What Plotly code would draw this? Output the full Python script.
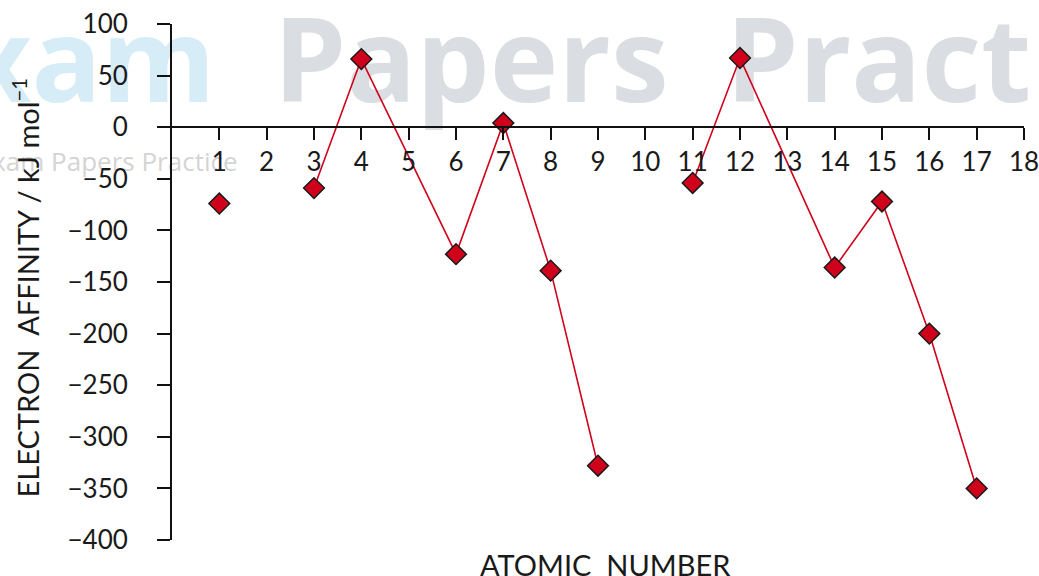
import plotly.graph_objects as go

# First electron affinities of elements 1-17 (noble gases and Be/Mg-type gaps omitted)
atomic_number = [1, 3, 4, 6, 7, 8, 9, 11, 12, 14, 15, 16, 17]
electron_affinity = [-74, -59, 66, -123, 4, -139, -328, -54, 67, -136, -72, -200, -350]
period = [1, 2, 2, 2, 2, 2, 2, 3, 3, 3, 3, 3, 3]

x_ticks = list(range(1, 19))
y_ticks = [100, 50, 0, -50, -100, -150, -200, -250, -300, -350, -400]

FONT = "Lato, 'Open Sans', sans-serif"
RED = "#d0021b"

fig = go.Figure()

for p in sorted(set(period)):
    xs = [a for a, q in zip(atomic_number, period) if q == p]
    ys = [v for v, q in zip(electron_affinity, period) if q == p]
    fig.add_trace(go.Scatter(
        x=xs, y=ys,
        mode="lines+markers",
        line=dict(color=RED, width=1.6),
        marker=dict(symbol="diamond", size=16, color=RED,
                    line=dict(color="#1a1a1a", width=1.5)),
        cliponaxis=False,
        showlegend=False,
        hoverinfo="x+y",
    ))


def watermark(text, x0, x1, y0, y1, pos, size, color, weight="normal"):
    """Faint lettering placed on a transparent shape beneath the data."""
    fig.add_shape(type="rect", xref="paper", yref="paper",
                  x0=x0, x1=x1, y0=y0, y1=y1, layer="below",
                  line=dict(width=0), fillcolor="rgba(0,0,0,0)",
                  label=dict(text=text, textposition=pos,
                             font=dict(family="'Open Sans', sans-serif", size=size,
                                       color=color, weight=weight)))


watermark("Exam", -0.4, 0.058, 0.84, 1.0, "middle right", 116, "#d6ecf6", "bold")
watermark("Papers", 0.112, 0.7, 0.84, 1.0, "middle left", 116, "#dadee2", "bold")
watermark("Practice", 0.643, 1.4, 0.84, 1.0, "middle left", 116, "#dadee2", "bold")
watermark("Exam Papers Practice", -0.235, 0.08, 0.70, 0.76, "middle left", 26, "#d4d4d4")

fig.update_layout(
    width=1039, height=576,
    margin=dict(l=172, r=15, t=24, b=36),
    paper_bgcolor="white",
    plot_bgcolor="rgba(0,0,0,0)",
    font=dict(family=FONT, color="#1a1a1a", size=26),
    xaxis=dict(
        range=[0, 18],
        tickvals=x_ticks,
        ticktext=[str(t) for t in x_ticks],
        anchor="free",
        position=0.8,
        automargin=False,
        ticklabeloverflow="allow",
        showline=True, linecolor="#111111", linewidth=2,
        ticks="outside", ticklen=12, tickwidth=2, tickcolor="#111111",
        ticklabelstandoff=0,
        showgrid=False, zeroline=False,
        tickfont=dict(family=FONT, size=26, color="#1a1a1a"),
    ),
    yaxis=dict(
        range=[-400, 100],
        tickvals=y_ticks,
        automargin=False,
        showline=True, linecolor="#111111", linewidth=2,
        ticks="outside", ticklen=13, tickwidth=2, tickcolor="#111111",
        ticklabelstandoff=24,
        showgrid=False, zeroline=False,
        tickfont=dict(family=FONT, size=26, color="#1a1a1a"),
    ),
    annotations=[
        dict(text="ATOMIC&nbsp;&nbsp;NUMBER", xref="paper", yref="paper",
             x=0.509, y=-0.047, xanchor="center", yanchor="middle",
             showarrow=False, font=dict(family=FONT, size=29, color="#1a1a1a")),
        dict(text="ELECTRON&nbsp;&nbsp;AFFINITY&nbsp;/&nbsp;kJ&nbsp;mol<sup>−1</sup>",
             xref="paper", yref="paper",
             x=-0.171, y=0.49, xanchor="center", yanchor="middle",
             textangle=-90, showarrow=False,
             font=dict(family=FONT, size=29, color="#1a1a1a")),
    ],
)

fig.write_html("out.html")
